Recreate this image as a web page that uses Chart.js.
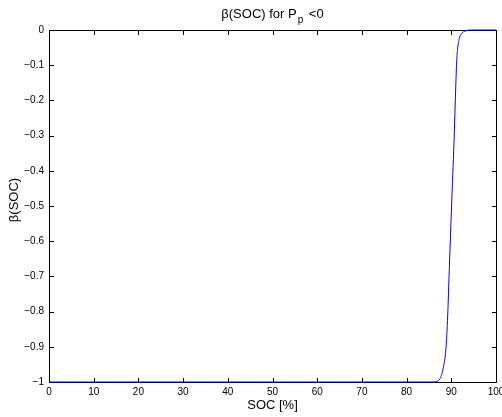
<!DOCTYPE html>
<html>
<head>
<meta charset="utf-8">
<script src="https://cdn.jsdelivr.net/npm/chart.js@4/dist/chart.umd.min.js"></script>
<style>
  html, body { margin: 0; padding: 0; background: #fff; }
  #wrap { width: 502px; height: 417px; position: relative; }
</style>
</head>
<body>
<div id="wrap"><canvas id="c" width="502" height="417"></canvas></div>
<script>
// values
const soc  = [0, 86.0, 86.8, 87.5, 88.2, 88.8, 89.2, 89.55, 90.06, 90.6, 91.0, 91.2, 91.4, 91.8, 92.3, 93.1, 94.2, 100];
const beta = [-1, -1, -0.998, -0.99, -0.96, -0.905, -0.81, -0.68, -0.5, -0.32, -0.16, -0.09, -0.055, -0.024, -0.01, -0.003, 0, 0];
const xTicks = [0, 10, 20, 30, 40, 50, 60, 70, 80, 90, 100];
const yTicks = [0, -0.1, -0.2, -0.3, -0.4, -0.5, -0.6, -0.7, -0.8, -0.9, -1];

const FONT = "'Liberation Sans', Arial, Helvetica, sans-serif";
const fmtY = (v) => {
  const n = parseFloat(Number(v).toFixed(1));
  return n === 0 ? "0" : (n < 0 ? "\u2212" + Math.abs(n) : String(n));
};

// box, inward ticks and text like MATLAB
const boxPlugin = {
  id: "box",
  beforeDatasetsDraw(chart) {
    const { ctx, chartArea: a, scales } = chart;
    const L = Math.round(a.left) + 0.5, R = Math.round(a.right) + 0.5;
    const T = Math.round(a.top) + 0.5, B = Math.round(a.bottom) + 0.5;
    const tl = 4.5;
    ctx.save();
    ctx.strokeStyle = "#000";
    ctx.lineWidth = 1;
    ctx.beginPath();
    for (const v of xTicks) {
      const x = Math.round(scales.x.getPixelForValue(v)) + 0.5;
      ctx.moveTo(x, B); ctx.lineTo(x, B - tl);
      ctx.moveTo(x, T); ctx.lineTo(x, T + tl);
    }
    for (const v of yTicks) {
      const y = Math.round(scales.y.getPixelForValue(v)) + 0.5;
      ctx.moveTo(L, y); ctx.lineTo(L + tl, y);
      ctx.moveTo(R, y); ctx.lineTo(R - tl, y);
    }
    ctx.stroke();
    ctx.strokeRect(L, T, R - L, B - T);
    ctx.restore();
  },
  afterDraw(chart) {
    const { ctx, chartArea: a } = chart;
    ctx.save();
    ctx.fillStyle = "#000";
    // title with subscript
    ctx.textBaseline = "alphabetic";
    const t1 = "\u03b2(SOC) for P", t3 = " <0";
    ctx.font = "10px " + FONT;
    const wSub = ctx.measureText("p").width;
    ctx.font = "13px " + FONT;
    const w1 = ctx.measureText(t1).width, w3 = ctx.measureText(t3).width;
    const cx = (a.left + a.right) / 2;
    const x0 = cx - (w1 + wSub + 3 + w3) / 2;
    ctx.textAlign = "left";
    ctx.fillText(t1, x0, 18);
    ctx.font = "10px " + FONT;
    ctx.fillText("p", x0 + w1 + 1, 23);
    ctx.font = "13px " + FONT;
    ctx.fillText(t3, x0 + w1 + wSub + 3, 18);

    // axis labels
    ctx.textAlign = "center";
    ctx.textBaseline = "middle";
    ctx.fillText("SOC [%]", cx, 405);
    ctx.translate(14, 200);
    ctx.rotate(-Math.PI / 2);
    ctx.fillText("\u03b2(SOC)", 0, 0);
    ctx.restore();
  }
};

new Chart(document.getElementById("c"), {
  type: "line",
  data: {
    datasets: [{
      data: soc.map((x, i) => ({ x, y: beta[i] })),
      borderColor: "#0000ff",
      borderWidth: 1,
      pointRadius: 0,
      cubicInterpolationMode: "monotone",
      clip: 3,
      fill: false
    }]
  },
  options: {
    responsive: false,
    animation: false,
    layout: { padding: { top: 30, right: 6, left: 0, bottom: 0 } },
    plugins: { legend: { display: false }, tooltip: { enabled: false }, title: { display: false } },
    scales: {
      x: {
        type: "linear",
        min: 0, max: 100,
        afterBuildTicks: (s) => { s.ticks = xTicks.map((v) => ({ value: v })); },
        afterFit: (s) => { s.height = 35; s.paddingLeft = 0; s.paddingRight = 0; },
        grid: { display: false, drawTicks: false },
        border: { display: false },
        ticks: { color: "#000", font: { family: FONT, size: 10 }, padding: 4, maxRotation: 0, autoSkip: false,
          callback: (v) => String(v) }
      },
      y: {
        type: "linear",
        min: -1, max: 0,
        afterBuildTicks: (s) => { s.ticks = yTicks.map((v) => ({ value: v })); },
        afterFit: (s) => { s.width = 49; s.paddingTop = 0; s.paddingBottom = 0; },
        grid: { display: false, drawTicks: false },
        border: { display: false },
        ticks: { color: "#000", font: { family: FONT, size: 10 }, padding: 5, autoSkip: false,
          callback: (v) => fmtY(v) }
      }
    }
  },
  plugins: [boxPlugin]
});
</script>
</body>
</html>
